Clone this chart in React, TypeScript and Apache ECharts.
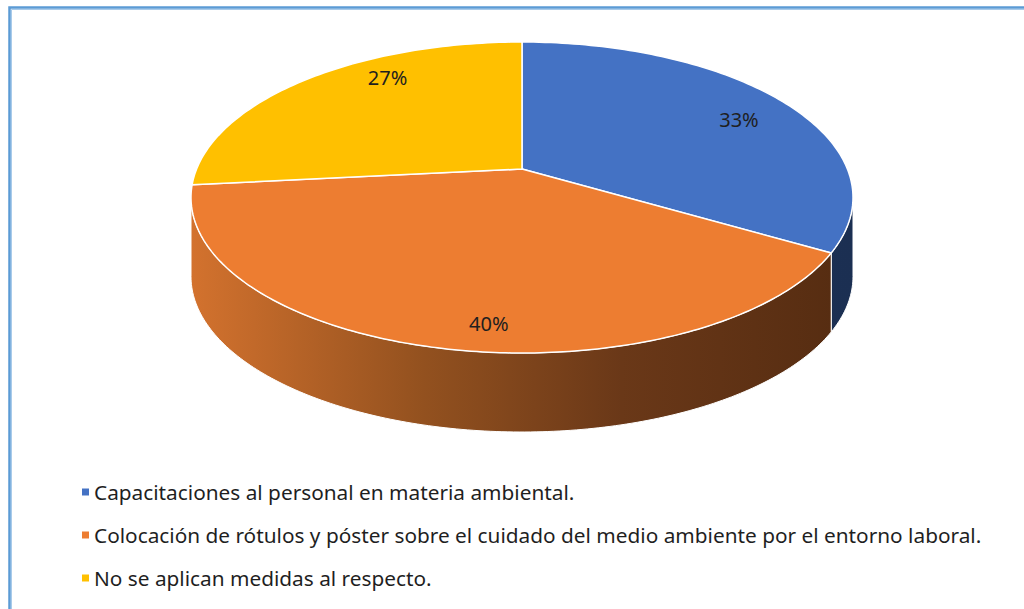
import React, { useEffect, useRef } from 'react';
import * as echarts from 'echarts';

// ---- data ----
const categories: string[] = [
  'Capacitaciones al personal en materia ambiental.',
  'Colocación de rótulos y póster sobre el cuidado del medio ambiente por el entorno laboral.',
  'No se aplican medidas al respecto.',
];
const values: number[] = [33, 40, 27];

// ---- styles ----
const topColors = ['#4472C4', '#ED7D31', '#FFC000'];
const sideStops: [number, string][][] = [
  [[0, '#233B66'], [1, '#1B2F52']],
  [[0, '#D3722E'], [0.35, '#93511F'], [0.65, '#6A3818'], [1, '#552C11']],
  [[0, '#B38600'], [1, '#7A5C00']],
];

// geometry of the tilted disc (screen pixels)
const G = { cx: 522, cyE: 197.5, rx: 331, ry: 155.5, pcx: 522, pcy: 169, depth: 79 };
// perspective-like warp of angles (degrees)
const WA = -13.05;
const WB = -4.18;
const warp = (t: number) => {
  const r = (t * Math.PI) / 180;
  return t + WA * Math.sin(r) + WB * Math.sin(2 * r);
};
const rim = (phi: number, dy = 0): number[] => {
  const r = (phi * Math.PI) / 180;
  return [G.cx + G.rx * Math.sin(r), G.cyE - G.ry * Math.cos(r) + dy];
};
const arc = (a: number, b: number, dy = 0): number[][] => {
  const pts: number[][] = [];
  const n = Math.max(2, Math.ceil(Math.abs(b - a)));
  for (let i = 0; i <= n; i++) pts.push(rim(a + ((b - a) * i) / n, dy));
  return pts;
};

export default function App() {
  const ref = useRef<HTMLDivElement>(null);
  useEffect(() => {
    if (!ref.current) return;
    const chart = echarts.init(ref.current, null, { renderer: 'svg' });
    const total = values.reduce((s, v) => s + v, 0);
    let cum = 0;
    const series = values.map((v, i) => {
      const start = (cum / total) * 360;
      cum += v;
      const end = (cum / total) * 360;
      const pct = Math.round((v / total) * 100);
      return {
        type: 'custom',
        name: categories[i],
        coordinateSystem: 'none',
        itemStyle: { color: topColors[i] },
        data: [[start, end, pct]],
        renderItem: (_params: any, api: any) => {
          const s = warp(api.value(0));
          const e = warp(api.value(1));
          const children: any[] = [];
          const a = Math.max(s, 90);
          const b = Math.min(e, 270);
          if (b > a) {
            const top = arc(a, b, 0);
            const bot = arc(b, a, G.depth);
            children.push({
              type: 'polygon',
              shape: { points: top.concat(bot) },
              style: {
                fill: new echarts.graphic.LinearGradient(
                  G.cx - G.rx, 0, G.cx + G.rx, 0,
                  sideStops[i].map(([o, c]) => ({ offset: o, color: c })),
                  true
                ),
                stroke: '#ffffff',
                lineWidth: 1,
              },
            });
          }
          children.push({
            type: 'polygon',
            shape: { points: [[G.pcx, G.pcy]].concat(arc(s, e, 0)) },
            style: { fill: topColors[i], stroke: '#ffffff', lineWidth: 1.5, lineJoin: 'round' },
          });
          const m = warp((api.value(0) + api.value(1)) / 2);
          const mr = (m * Math.PI) / 180;
          children.push({
            type: 'text',
            x: G.cx + 23 + 0.836 * G.rx * Math.sin(mr),
            y: 198.5 - 0.85 * G.ry * Math.cos(mr) + 22 * Math.sin(mr),
            style: {
              text: api.value(2) + '%',
              fill: '#1F1F1F',
              fontSize: 20,
              fontFamily: 'Noto Sans',
              align: 'center',
              verticalAlign: 'middle',
            },
          });
          return { type: 'group', children };
        },
      };
    });

    chart.setOption({
      animation: false,
      backgroundColor: '#ffffff',
      graphic: [
        {
          type: 'rect',
          shape: { x: 9.5, y: 7.5, width: 1100, height: 700 },
          style: { fill: 'none', stroke: '#5B9BD5', lineWidth: 2.5 },
          silent: true,
        },
        {
          type: 'rect',
          shape: { x: 11.5, y: 9.5, width: 1100, height: 700 },
          style: { fill: 'none', stroke: '#A9CBEA', lineWidth: 1 },
          silent: true,
        },
      ],
      legend: {
        orient: 'vertical',
        left: 77,
        top: 476,
        icon: 'rect',
        itemWidth: 7,
        itemHeight: 7,
        itemGap: 21,
        selectedMode: false,
        data: categories,
        textStyle: { fontSize: 20.8, fontFamily: 'Noto Sans', color: '#1F1F1F', lineHeight: 22 },
      },
      series,
    });
    return () => chart.dispose();
  }, []);
  return <div ref={ref} style={{ position: 'fixed', left: 0, top: 0, width: 1024, height: 609 }} />;
}
